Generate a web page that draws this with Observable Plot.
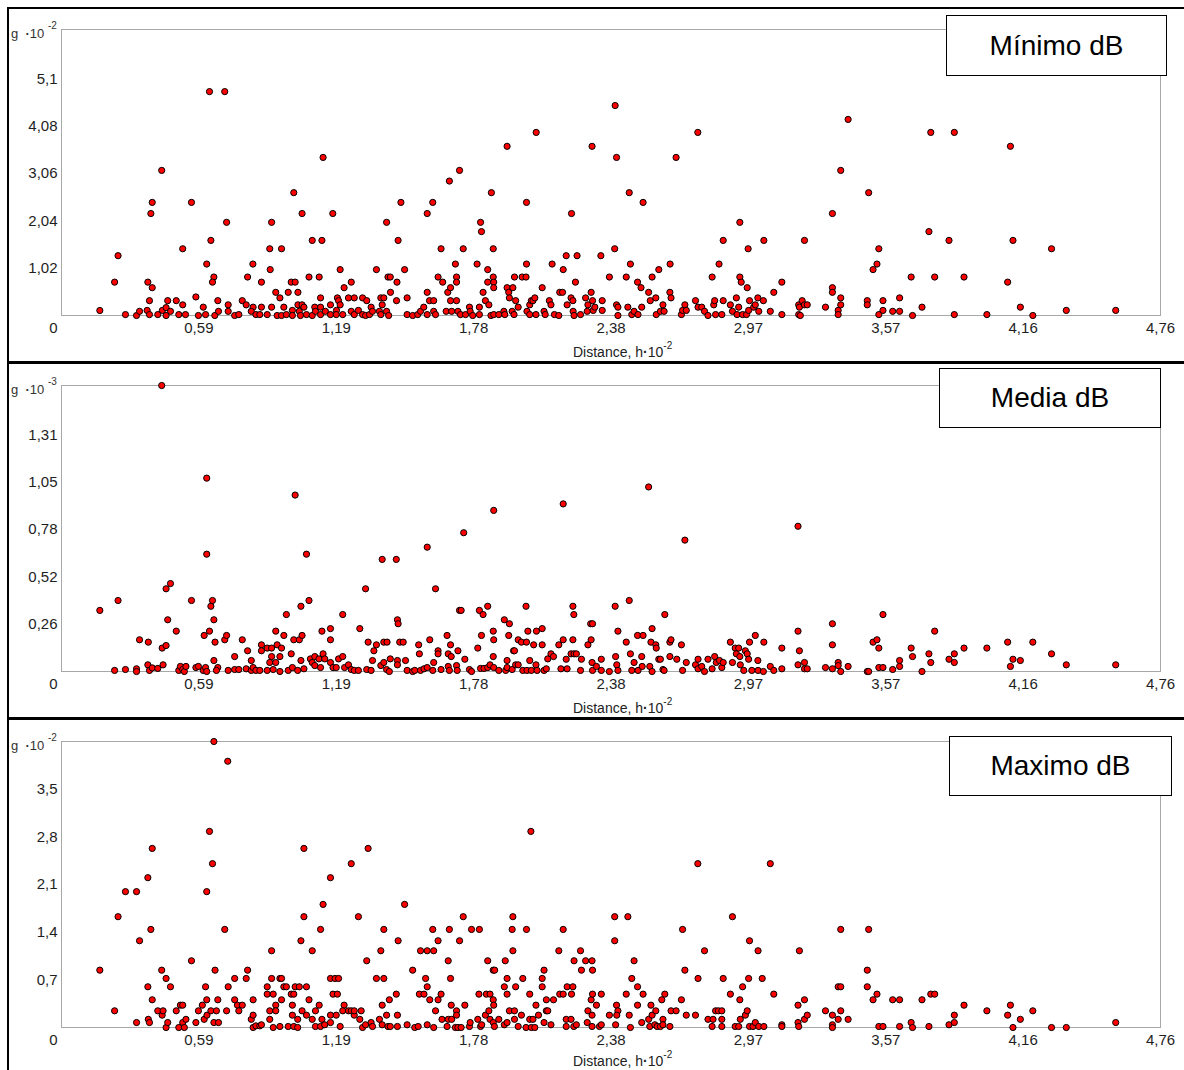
<!DOCTYPE html>
<html>
<head>
<meta charset="utf-8">
<script src="https://cdn.jsdelivr.net/npm/d3@7"></script>
<script src="https://cdn.jsdelivr.net/npm/@observablehq/plot@0.6"></script>
<style>
  html, body { margin: 0; padding: 0; background: #fff; }
  body { font-family: "Liberation Sans", Arial, sans-serif; }
  #root { position: relative; width: 1184px; height: 1070px; overflow: hidden; background: #fff; }
  .panel { position: absolute; left: 0; width: 1184px; z-index: 1; }
  .rule { position: absolute; background: #000; z-index: 5; }
  .legend { position: absolute; box-sizing: border-box; border: 1.5px solid #000; background: #fff;
            font-size: 28px; color: #000; display: flex; align-items: center; justify-content: center; z-index: 6; }
  .ylab { position: absolute; left: 11px; font-size: 13px; line-height: 14px; color: #333; z-index: 6; white-space: nowrap; }
  .xlab { position: absolute; left: 573px; font-size: 14px; line-height: 14px; color: #222; z-index: 6; white-space: nowrap; }
  .sup { position: relative; font-size: 10px; }
</style>
</head>
<body>
<div id="root"></div>
<script>
// ---- tick positions and labels ----
const xTicks = [0.595, 1.19, 1.785, 2.38, 2.975, 3.57, 4.165, 4.76];
const xTickLabels = ["0,59", "1,19", "1,78", "2,38", "2,97", "3,57", "4,16", "4,76"];
const minTicks = [1.02, 2.04, 3.06, 4.08, 5.1];
const minTickLabels = ["1,02", "2,04", "3,06", "4,08", "5,1"];
const medTicks = [0.2625, 0.525, 0.7875, 1.05, 1.3125];
const medTickLabels = ["0,26", "0,52", "0,78", "1,05", "1,31"];
const maxTicks = [0.7, 1.4, 2.1, 2.8, 3.5];
const maxTickLabels = ["0,7", "1,4", "2,1", "2,8", "3,5"];
const legendNames = ["Mínimo dB", "Media dB", "Maximo dB"];
const yExponents = ["-2", "-3", "-2"];

// ---- variogram clouds: [distance h·10^-2, gamma] ----
const minimo = [
[0.166,0.108],[0.23,0.72],[0.245,1.29],[0.277,0.02],[0.325,0],[0.338,0.09],[0.374,0.72],[0.393,0.6],[0.387,2.2],[0.393,2.44],[0.434,3.13],[0.381,0.32],[0.371,0.11],[0.381,0.02],[0.417,0.02],[0.437,0.11],[0.453,0.17],[0.46,0.32],[0.472,0.09],[0.453,0],[0.497,0.32],[0.508,0.02],[0.525,0.23],[0.525,1.44],[0.537,0.02],[0.563,2.44],[0.582,0.4],[0.593,0],[0.614,0.18],[0.624,0.02],[0.629,1.11],[0.641,4.83],[0.647,1.62],[0.66,0.83],[0.654,0.72],[0.664,0],[0.677,0.32],[0.68,0.09],[0.707,4.83],[0.715,2.01],[0.722,0.23],[0.722,0.09],[0.75,0],[0.768,0.02],[0.783,0.32],[0.8,0.23],[0.806,0.83],[0.829,1.11],[0.83,0.18],[0.822,0.09],[0.842,0.02],[0.859,0.02],[0.866,0.18],[0.866,0.72],[0.891,0.02],[0.902,1.44],[0.904,0.99],[0.91,2.01],[0.91,0.18],[0.928,0.5],[0.934,0],[0.946,0.38],[0.953,1.44],[0.953,0],[0.963,0.18],[0.982,0.5],[0.974,0.02],[0.995,0.72],[1.006,2.65],[1.0,0.11],[1.0,0],[1.012,0.72],[1.024,0.5],[1.024,0.23],[1.03,0.09],[1.042,2.2],[1.042,0.23],[1.05,0.18],[1.035,0],[1.061,0.02],[1.072,0.83],[1.086,1.62],[1.086,0],[1.097,0.18],[1.1,0.09],[1.116,0.83],[1.122,0.38],[1.122,0.18],[1.122,0.02],[1.128,1.62],[1.133,3.41],[1.143,0.09],[1.165,0.23],[1.165,0.02],[1.175,2.2],[1.191,0.11],[1.195,0.38],[1.2,0.32],[1.207,0.99],[1.207,0.23],[1.19,0.02],[1.218,0.02],[1.224,0.6],[1.243,0.38],[1.255,0.72],[1.255,0.09],[1.268,0.38],[1.268,0.02],[1.286,0.11],[1.304,0.38],[1.304,0.02],[1.322,0.32],[1.317,0],[1.341,0.18],[1.334,0.02],[1.347,0.09],[1.364,0.99],[1.377,0.09],[1.383,0.38],[1.389,0.23],[1.396,0.38],[1.383,0.02],[1.408,2.01],[1.408,0.09],[1.414,0.83],[1.424,0.83],[1.425,0.5],[1.417,0],[1.451,0.32],[1.453,0.72],[1.458,1.62],[1.47,2.44],
[1.486,0.99],[1.497,0.38],[1.497,0.02],[1.521,0],[1.543,0.02],[1.555,0.09],[1.569,0.18],[1.584,2.2],[1.584,0.5],[1.584,0.02],[1.594,0.32],[1.608,2.44],[1.612,0.32],[1.612,0.09],[1.62,0.02],[1.631,0.83],[1.644,1.44],[1.651,0.72],[1.666,0.09],[1.673,0.5],[1.68,2.9],[1.685,0.32],[1.685,0.6],[1.69,0.09],[1.706,1.11],[1.711,0.83],[1.711,0.72],[1.711,0.32],[1.717,0.09],[1.724,3.13],[1.728,0.02],[1.74,1.44],[1.75,0.02],[1.767,0.18],[1.77,0.09],[1.781,0],[1.8,1.11],[1.81,0.18],[1.815,2.01],[1.819,1.81],[1.81,0.02],[1.826,0.5],[1.836,0.32],[1.846,0.99],[1.846,0.72],[1.851,0.23],[1.862,2.65],[1.87,1.44],[1.87,0.83],[1.872,0.72],[1.872,0.6],[1.86,0],[1.872,0.02],[1.894,0.02],[1.916,0.09],[1.92,0.02],[1.93,3.65],[1.93,0.6],[1.937,0.5],[1.94,0.38],[1.955,0.6],[1.952,0.09],[1.962,0.83],[1.967,0.32],[1.96,0.02],[1.978,0.18],[1.995,0.83],[2.012,0.83],[2.014,2.44],[2.014,1.11],[2.016,0.09],[2.028,0.23],[2.035,0.32],[2.042,0.32],[2.05,0.38],[2.056,3.95],[2.028,0.02],[2.055,0.02],[2.082,0.6],[2.09,0.09],[2.095,0.02],[2.113,0.32],[2.125,1.11],[2.12,0.23],[2.135,0.02],[2.154,0],[2.158,0.5],[2.17,0.5],[2.173,0.99],[2.186,1.29],[2.19,0.23],[2.209,2.2],[2.207,0.38],[2.215,0.32],[2.216,0.09],[2.226,0.72],[2.233,1.29],[2.22,0],[2.248,0.02],[2.27,0.38],[2.277,0.09],[2.28,0.23],[2.294,0.5],[2.298,3.65],[2.3,0.32],[2.303,0.11],[2.31,0.18],[2.336,1.29],[2.342,0.32],[2.342,0.11],[2.373,0.83],[2.396,1.44],[2.398,4.53],[2.404,3.41],[2.404,0.23],[2.41,0.18],[2.41,0],[2.446,0.83],[2.453,0.18],[2.459,2.65],[2.464,1.11],[2.47,0.02],[2.48,0.09],[2.495,0.72],[2.497,0.02],[2.513,0.18],[2.51,0.6],[2.519,2.44],[2.543,0.5],[2.55,0.32],[2.558,0.83],[2.574,0.38],[2.576,0.02],[2.587,0.99],[2.594,0.09],[2.605,0.23],[2.61,0.09],[2.636,1.11],[2.635,0.5],[2.64,0.38],[2.662,3.41],[2.685,0.02],[2.69,0.11],[2.7,0.23],[2.706,0.11],[2.746,0.32],[2.756,3.95],[2.757,0.18],[2.773,0.18],[2.785,0.09],[2.8,0],[2.818,0.83],[2.825,0.23],[2.829,0.32],[2.833,0.02],[2.848,1.11],[2.86,0.02],[2.866,1.62],[2.866,0.32],[2.897,0.23],[2.906,0.09],[2.923,0.38],[2.926,0.02],[2.933,0.18],[2.938,2.01],[2.938,0.83],[2.944,0.72],[2.95,0.02],[2.967,0.02],[2.97,0.6],[2.974,1.44],[2.976,0.11],[2.98,0.32],[2.998,0.18],[3.005,0.23],[3.016,0.38],[3.02,0.09],[3.042,1.62],[3.04,0.32],[3.07,0.09],[3.085,0.5],[3.12,0.72],[3.12,0.02],[3.193,0.23],[3.196,0.18],[3.193,0.02],
[3.218,1.62],[3.208,0.32],[3.218,0.23],[3.23,0.23],[3.2,0],[3.309,0.18],[3.339,0.6],[3.339,0.5],[3.339,2.2],[3.364,0.11],[3.364,0.02],[3.375,3.13],[3.375,0.38],[3.375,0.23],[3.407,4.23],[3.49,0.32],[3.49,0.23],[3.496,2.65],[3.515,0.99],[3.532,1.11],[3.54,1.44],[3.54,0.02],[3.558,0.32],[3.558,0.11],[3.6,0.09],[3.63,0.09],[3.63,0.38],[3.686,0],[3.68,0.83],[3.727,0.18],[3.757,1.81],[3.765,3.95],[3.782,0.83],[3.844,1.62],[3.867,3.95],[3.867,0.02],[3.909,0.83],[4.008,0.02],[4.098,0.72],[4.11,3.65],[4.121,1.62],[4.153,0.18],[4.207,0],[4.288,1.44],[4.352,0.11],[4.566,0.11]
];

const media = [
[0.166,0.339],[0.23,0.006],[0.245,0.394],[0.277,0.011],[0.325,0.015],[0.325,0],[0.338,0.176],[0.374,0.037],[0.376,0.163],[0.381,0.006],[0.393,0.02],[0.417,0.017],[0.434,1.587],[0.436,0.13],[0.44,0.037],[0.453,0.459],[0.453,0.144],[0.46,0.287],[0.472,0.488],[0.497,0.224],[0.508,0.006],[0.515,0.028],[0.525,0.011],[0.532,0],[0.539,0.028],[0.563,0.394],[0.582,0.022],[0.593,0.028],[0.614,0.006],[0.618,0.2],[0.624,0.022],[0.629,1.073],[0.629,0.651],[0.629,0],[0.641,0.224],[0.647,0.362],[0.654,0.394],[0.66,0.287],[0.66,0.061],[0.665,0.163],[0.677,0.022],[0.671,0.006],[0.707,0.176],[0.715,0.2],[0.722,0.006],[0.75,0.083],[0.75,0.011],[0.768,0.011],[0.783,0.176],[0.8,0.015],[0.806,0.115],[0.822,0.061],[0.822,0.006],[0.83,0.022],[0.842,0.006],[0.859,0.006],[0.866,0.148],[0.866,0.115],[0.891,0.006],[0.891,0.13],[0.902,0.05],[0.91,0.083],[0.91,0.13],[0.917,0.011],[0.928,0.224],[0.928,0.05],[0.934,0.148],[0.946,0.083],[0.953,0.13],[0.946,0],[0.963,0.2],[0.974,0.316],[0.982,0.006],[0.995,0.098],[1.0,0.022],[1.006,0.176],[1.012,0.979],[1.023,0.006],[1.03,0.176],[1.037,0.362],[1.037,0.061],[1.042,0.2],[1.05,0.015],[1.061,0.651],[1.072,0.394],[1.078,0.07],[1.086,0.05],[1.097,0.083],[1.097,0.033],[1.115,0.07],[1.128,0.224],[1.133,0.098],[1.122,0.022],[1.14,0.07],[1.165,0.238],[1.165,0.176],[1.165,0.05],[1.176,0.022],[1.19,0.022],[1.2,0.07],[1.218,0.316],[1.218,0.083],[1.226,0.022],[1.243,0.037],[1.255,0.011],[1.268,0.006],[1.292,0.238],[1.286,0.006],[1.317,0.459],[1.328,0.163],[1.322,0.011],[1.341,0.006],[1.347,0.061],[1.353,0.115],[1.364,0.148],[1.383,0.033],[1.389,0.622],[1.396,0.163],[1.396,0.05],[1.41,0.163],[1.408,0.011],[1.424,0.07],[1.42,0],[1.45,0.622],[1.455,0.287],[1.458,0.265],[1.455,0.061],[1.455,0.037],[1.465,0.163],
[1.48,0.163],[1.49,0.061],[1.497,0.006],[1.521,0],[1.53,0.006],[1.547,0.148],[1.55,0.098],[1.555,0.006],[1.57,0.015],[1.584,0.69],[1.584,0.022],[1.595,0.176],[1.608,0.006],[1.612,0.05],[1.62,0.459],[1.631,0.115],[1.631,0.098],[1.644,0.011],[1.67,0.2],[1.675,0.098],[1.675,0.028],[1.685,0.148],[1.688,0.083],[1.68,0.006],[1.711,0.033],[1.717,0.115],[1.714,0.006],[1.724,0.339],[1.731,0.339],[1.742,0.77],[1.747,0.068],[1.767,0.011],[1.776,0],[1.803,0.13],[1.81,0.339],[1.815,0.017],[1.819,0.2],[1.826,0.316],[1.83,0.017],[1.846,0.362],[1.846,0.022],[1.856,0.037],[1.87,0.083],[1.872,0.894],[1.87,0.224],[1.872,0.176],[1.872,0.022],[1.894,0.006],[1.918,0.287],[1.924,0.006],[1.93,0.061],[1.93,0.022],[1.94,0.265],[1.937,0.2],[1.952,0.011],[1.958,0.115],[1.962,0.115],[1.967,0.037],[1.978,0.037],[1.978,0.176],[1.992,0.163],[1.998,0.006],[2.012,0.362],[2.014,0.163],[2.016,0.006],[2.02,0.224],[2.028,0.061],[2.035,0.006],[2.045,0.148],[2.055,0.037],[2.057,0.224],[2.06,0.006],[2.082,0.238],[2.082,0.148],[2.09,0.006],[2.1,0.015],[2.106,0.07],[2.12,0.098],[2.131,0.083],[2.154,0.148],[2.163,0.015],[2.173,0.93],[2.173,0.176],[2.186,0.068],[2.19,0.015],[2.207,0.098],[2.215,0.362],[2.215,0.176],[2.219,0.316],[2.22,0.098],[2.23,0.098],[2.248,0.006],[2.252,0.068],[2.28,0.148],[2.292,0.265],[2.294,0.176],[2.3,0.265],[2.298,0.05],[2.3,0.006],[2.317,0.028],[2.338,0.068],[2.338,0.006],[2.373,0],[2.398,0.362],[2.4,0.083],[2.405,0.037],[2.41,0.224],[2.41,0.006],[2.446,0.163],[2.459,0.394],[2.464,0.098],[2.47,0.006],[2.48,0.05],[2.495,0.2],[2.497,0.006],[2.513,0.083],[2.515,0.028],[2.519,0.2],[2.543,1.024],[2.548,0.028],[2.553,0.163],[2.558,0.238],[2.558,0],[2.574,0.148],[2.576,0.13],[2.587,0.068],[2.594,0.068],[2.605,0.011],[2.61,0.006],[2.613,0.316],[2.635,0.163],[2.64,0.176],[2.635,0.083],[2.665,0.068],[2.685,0.148],[2.69,0.006],[2.7,0.729],[2.706,0.05],[2.746,0.037],[2.757,0.068],[2.757,0.015],[2.773,0.028],[2.785,0],[2.8,0.068],[2.818,0.015],[2.829,0.083],[2.836,0.05],[2.85,0.061],[2.86,0.022],[2.866,0.05],[2.897,0.163],[2.906,0.05],[2.918,0.13],[2.923,0.098],[2.933,0.13],[2.938,0.083],[2.94,0.037],[2.955,0.006],[2.962,0.115],[2.97,0.098],[2.976,0.068],[2.98,0.163],[2.99,0.006],[3.005,0.2],[3.016,0.061],[3.017,0.006],[3.042,0.163],[3.04,0],[3.07,0.028],[3.085,0.006],[3.12,0.13],[3.12,0.015],[3.19,0.806],[3.19,0.224],[3.196,0.115],[3.19,0.037],
[3.218,0.05],[3.218,0.015],[3.23,0.015],[3.309,0.022],[3.339,0.265],[3.339,0.148],[3.339,0.015],[3.364,0.05],[3.364,0.033],[3.375,0],[3.407,0.028],[3.49,0],[3.496,0],[3.515,0.163],[3.532,0.176],[3.54,0.13],[3.54,0.022],[3.558,0.316],[3.558,0.022],[3.6,0.011],[3.63,0.061],[3.63,0.028],[3.68,0.13],[3.686,0.083],[3.727,0],[3.757,0.098],[3.765,0.05],[3.782,0.224],[3.844,0.068],[3.867,0.098],[3.867,0.05],[3.909,0.13],[4.008,0.13],[4.098,0.163],[4.11,0.028],[4.121,0.068],[4.153,0.061],[4.207,0.163],[4.288,0.098],[4.352,0.037],[4.566,0.037]
];

const maximo = [
[0.166,0.842],[0.23,0.245],[0.245,1.627],[0.277,1.995],[0.325,1.995],[0.325,0.073],[0.338,1.274],[0.374,2.2],[0.374,0.598],[0.376,0.12],[0.381,0.073],[0.387,1.44],[0.393,2.63],[0.393,0.407],[0.417,0.245],[0.434,0.842],[0.436,0.181],[0.44,0.245],[0.453,0.72],[0.453,0],[0.46,0.073],[0.472,0.598],[0.497,0.245],[0.508,0],[0.515,0.328],[0.525,0.328],[0.525,0.073],[0.532,0],[0.539,0.12],[0.563,0.98],[0.582,0.073],[0.593,0.245],[0.61,0.328],[0.618,0.12],[0.624,0.598],[0.629,1.995],[0.629,0.407],[0.63,0.181],[0.641,2.88],[0.647,0.245],[0.654,2.406],[0.66,0.073],[0.665,0.842],[0.677,0.407],[0.671,0.245],[0.68,0.073],[0.66,4.2],[0.707,1.44],[0.715,0.245],[0.72,3.91],[0.722,0.598],[0.75,0.72],[0.75,0.407],[0.762,0.328],[0.768,0.245],[0.783,0.328],[0.8,0.72],[0.806,0.842],[0.822,0.12],[0.83,0.407],[0.83,0.181],[0.83,0],[0.842,0.024],[0.859,0.024],[0.866,0.04],[0.891,0.598],[0.891,0.49],[0.902,0.245],[0.902,0.12],[0.91,1.127],[0.91,0.72],[0.917,0.49],[0.917,0],[0.928,0.328],[0.928,0.245],[0.946,0.72],[0.953,0.407],[0.953,0.72],[0.946,0.015],[0.963,0.598],[0.974,0.598],[0.982,0.015],[0.995,0.49],[1.0,0.328],[1.0,0.181],[1.006,0.49],[1.012,0.598],[1.006,0.015],[1.023,0.12],[1.023,0],[1.03,0.598],[1.037,1.274],[1.042,0.245],[1.05,2.63],[1.05,1.627],[1.061,0.598],[1.061,0.181],[1.072,0.407],[1.086,1.127],[1.086,0.12],[1.1,0.245],[1.1,0.015],[1.116,0.328],[1.122,1.44],[1.122,0.015],[1.128,0.12],[1.133,1.808],[1.14,0.04],[1.165,2.2],[1.165,0.72],[1.165,0.181],[1.165,0.073],[1.176,0.49],[1.185,0.72],[1.19,0.181],[1.195,0.49],[1.2,0.72],[1.207,0.015],[1.224,0.328],[1.218,0.245],[1.243,0.245],[1.255,2.406],[1.255,0.245],[1.268,0.181],[1.268,0.245],[1.286,1.627],[1.292,0.12],[1.298,0.245],[1.304,0],[1.317,0.04],[1.322,0.98],[1.328,2.63],[1.341,0.073],[1.347,0.015],[1.364,0.72],[1.377,0.12],[1.383,1.127],[1.389,0.328],[1.396,1.44],[1.396,0.72],[1.389,0.04],[1.408,0.181],[1.414,0.015],[1.42,0.407],[1.424,0.015],[1.45,0.49],[1.455,0.181],[1.458,1.274],[1.455,0.015],
[1.486,1.808],[1.497,0.04],[1.521,0.842],[1.53,0],[1.545,0.015],[1.555,1.127],[1.55,0.49],[1.57,0.49],[1.577,0.72],[1.584,0.598],[1.584,0.04],[1.584,1.127],[1.595,0.407],[1.608,1.44],[1.612,1.127],[1.612,0],[1.62,0.245],[1.631,1.274],[1.631,0.407],[1.644,0.49],[1.648,0.12],[1.67,0.015],[1.675,0.98],[1.68,1.44],[1.675,0.12],[1.685,0.72],[1.688,0.328],[1.69,0.12],[1.706,0],[1.711,0.245],[1.711,0.181],[1.717,0],[1.724,1.274],[1.731,0],[1.74,1.627],[1.747,0.328],[1.767,0.015],[1.77,0.073],[1.776,1.44],[1.803,0.12],[1.808,0.49],[1.81,1.44],[1.815,0.015],[1.82,0.04],[1.836,0.181],[1.846,0.98],[1.84,0.49],[1.851,0.245],[1.856,0.49],[1.856,0.12],[1.87,0.842],[1.876,0.842],[1.87,0.407],[1.872,0.328],[1.87,0.073],[1.875,0.015],[1.894,0.12],[1.918,0.598],[1.922,0.98],[1.918,0.04],[1.93,0.72],[1.93,0.49],[1.93,0.073],[1.94,0.245],[1.952,1.44],[1.955,1.627],[1.955,1.127],[1.962,0.245],[1.967,0.598],[1.962,0.12],[1.978,0.015],[1.992,0.181],[1.998,0.72],[2.012,0],[2.014,1.44],[2.028,0.49],[2.028,0.12],[2.033,2.88],[2.035,0],[2.042,0.12],[2.05,0],[2.055,0.328],[2.066,0.181],[2.082,0.72],[2.082,0.598],[2.09,0.842],[2.09,0.073],[2.1,0.407],[2.1,0.245],[2.106,0.245],[2.12,0.04],[2.131,0.407],[2.154,1.127],[2.158,0.49],[2.173,1.44],[2.173,0.49],[2.186,0.12],[2.19,0.598],[2.186,0.015],[2.207,0.12],[2.209,0.49],[2.215,0.598],[2.219,0.015],[2.22,0.98],[2.23,0.04],[2.248,1.127],[2.252,0.842],[2.27,0.98],[2.28,0.245],[2.277,0.073],[2.294,0.407],[2.298,0.98],[2.3,0.842],[2.298,0.181],[2.3,0.49],[2.298,0.015],[2.317,0.328],[2.33,0.015],[2.338,0.49],[2.338,0.04],[2.373,0.181],[2.396,1.627],[2.396,1.274],[2.404,0.328],[2.41,0.245],[2.405,0.181],[2.4,0.04],[2.446,0.49],[2.453,1.627],[2.459,0.181],[2.464,0],[2.47,0.72],[2.48,0.98],[2.495,0.598],[2.495,0.328],[2.513,0.073],[2.519,0.49],[2.543,0.12],[2.548,0.015],[2.553,0.328],[2.558,0.181],[2.57,0.04],[2.574,0.245],[2.58,0.015],[2.594,0.015],[2.6,0.407],[2.605,0.12],[2.613,0.49],[2.605,0.04],[2.635,0.015],[2.64,0.245],[2.662,0.245],[2.685,0.407],[2.69,1.44],[2.706,0.181],[2.7,0.842],[2.746,0.181],[2.756,2.406],[2.757,0.72],[2.785,1.127],[2.8,0.12],[2.818,0.015],[2.822,0.12],[2.833,0.245],[2.845,0.245],[2.86,0.245],[2.86,0.12],[2.86,0.015],[2.866,0.72],[2.897,0.49],[2.906,1.627],[2.918,0.015],[2.933,0.015],[2.938,0.407],[2.94,0.12],[2.95,0.598],[2.962,0.181],[2.97,0.245],[2.976,0.72],[2.98,1.274],[2.98,0.015],[2.995,0.015],[3.005,0.073],[3.017,1.127],[3.02,0.015],[3.035,0.72],[3.042,0.015],[3.07,2.406],[3.085,0.49],[3.12,0.04],[3.12,0.015],[3.19,0.328],[3.196,1.127],[3.19,0.073],[3.193,0.015],
[3.218,0.407],[3.218,0.12],[3.23,0.181],[3.309,0.245],[3.339,0.181],[3.339,0.04],[3.339,0],[3.364,0.598],[3.375,0.598],[3.364,0.12],[3.375,0.245],[3.375,1.44],[3.407,0.12],[3.49,0.842],[3.49,0.598],[3.496,1.44],[3.515,0.407],[3.532,0.49],[3.54,0.015],[3.558,0.015],[3.6,0.407],[3.63,0.407],[3.63,0.015],[3.68,0.073],[3.686,0],[3.727,0.407],[3.757,0.015],[3.765,0.49],[3.782,0.49],[3.844,0.04],[3.867,0.181],[3.867,0.073],[3.909,0.328],[4.008,0.245],[4.098,0.181],[4.11,0.328],[4.121,0],[4.153,0.12],[4.207,0.245],[4.288,0],[4.352,0],[4.566,0.073]
];

// ---- layout (page positions of each panel) ----
const panels = [
  { data: minimo, yMax: 6.17, ticks: minTicks, labels: minTickLabels, top: 8,   legend: {left: 946, top: 15,  w: 221, h: 61} },
  { data: media,  yMax: 1.587, ticks: medTicks, labels: medTickLabels, top: 364, legend: {left: 939, top: 368, w: 222, h: 60} },
  { data: maximo, yMax: 4.2,  ticks: maxTicks, labels: maxTickLabels, top: 720, legend: {left: 949, top: 736, w: 223, h: 60} }
];

const root = document.getElementById("root");
const MT = 21, PH = 286, MB = 48;
const FONT = '"Liberation Sans", Arial, sans-serif';

panels.forEach((p, k) => {
  const pts = p.data.map(([d, g]) => ({d, g}));
  const xt = xTicks.map((v, i) => ({v, label: xTickLabels[i]}));
  const yt = p.ticks.map((v, i) => ({v, label: p.labels[i]}));
  const svg = Plot.plot({
    width: 1184, height: MT + PH + MB,
    marginLeft: 61, marginRight: 24, marginTop: MT, marginBottom: MB,
    x: {domain: [0, 4.76], axis: null},
    y: {domain: [0, p.yMax], axis: null},
    style: {fontFamily: FONT, fontSize: "15px", color: "#1e1e1e", background: "transparent", overflow: "visible"},
    marks: [
      Plot.frame({stroke: "#a8a8a8", strokeWidth: 1}),
      Plot.dot(pts, {x: "d", y: "g", r: 3.1, fill: "#ff0000", stroke: "#000", strokeWidth: 1}),
      Plot.text(xt, {x: "v", text: "label", frameAnchor: "bottom", lineAnchor: "top", dy: 7, fontSize: 15}),
      Plot.text([{v: 0, label: "0"}], {x: "v", text: "label", frameAnchor: "bottom", lineAnchor: "top", dy: 7, dx: -8, fontSize: 15}),
      Plot.text(yt, {y: "v", text: "label", frameAnchor: "left", textAnchor: "end", dx: -4, fontSize: 15})
    ]
  });
  const wrap = document.createElement("div");
  wrap.className = "panel";
  wrap.style.top = p.top + "px";
  wrap.appendChild(svg);
  root.appendChild(wrap);

  const plotTop = p.top + MT;
  const plotBottom = plotTop + PH;

  const yl = document.createElement("div");
  yl.className = "ylab";
  yl.style.top = (plotTop - 2) + "px";
  yl.innerHTML = 'g&nbsp;&nbsp;<b style="font-weight:bold">·</b>10&nbsp;<span class="sup" style="top:-9px">' + yExponents[k] + '</span>';
  root.appendChild(yl);

  const xl = document.createElement("div");
  xl.className = "xlab";
  xl.style.top = Math.min(plotBottom + 30, 1054) + "px";
  xl.innerHTML = 'Distance, h<b style="font-weight:bold">·</b>10<span class="sup" style="top:-8px">-2</span>';
  root.appendChild(xl);

  const lg = document.createElement("div");
  lg.className = "legend";
  lg.style.left = p.legend.left + "px";
  lg.style.top = p.legend.top + "px";
  lg.style.width = p.legend.w + "px";
  lg.style.height = p.legend.h + "px";
  lg.textContent = legendNames[k];
  root.appendChild(lg);
});

// ---- outer rules ----
function rule(l, t, w, h) {
  const r = document.createElement("div");
  r.className = "rule";
  r.style.left = l + "px"; r.style.top = t + "px";
  r.style.width = w + "px"; r.style.height = h + "px";
  root.appendChild(r);
}
rule(7, 7, 1177, 2);     // top
rule(7, 7, 2, 1063);     // left
rule(7, 361, 1177, 3);   // separator 1
rule(7, 717, 1177, 3);   // separator 2
</script>
</body>
</html>
